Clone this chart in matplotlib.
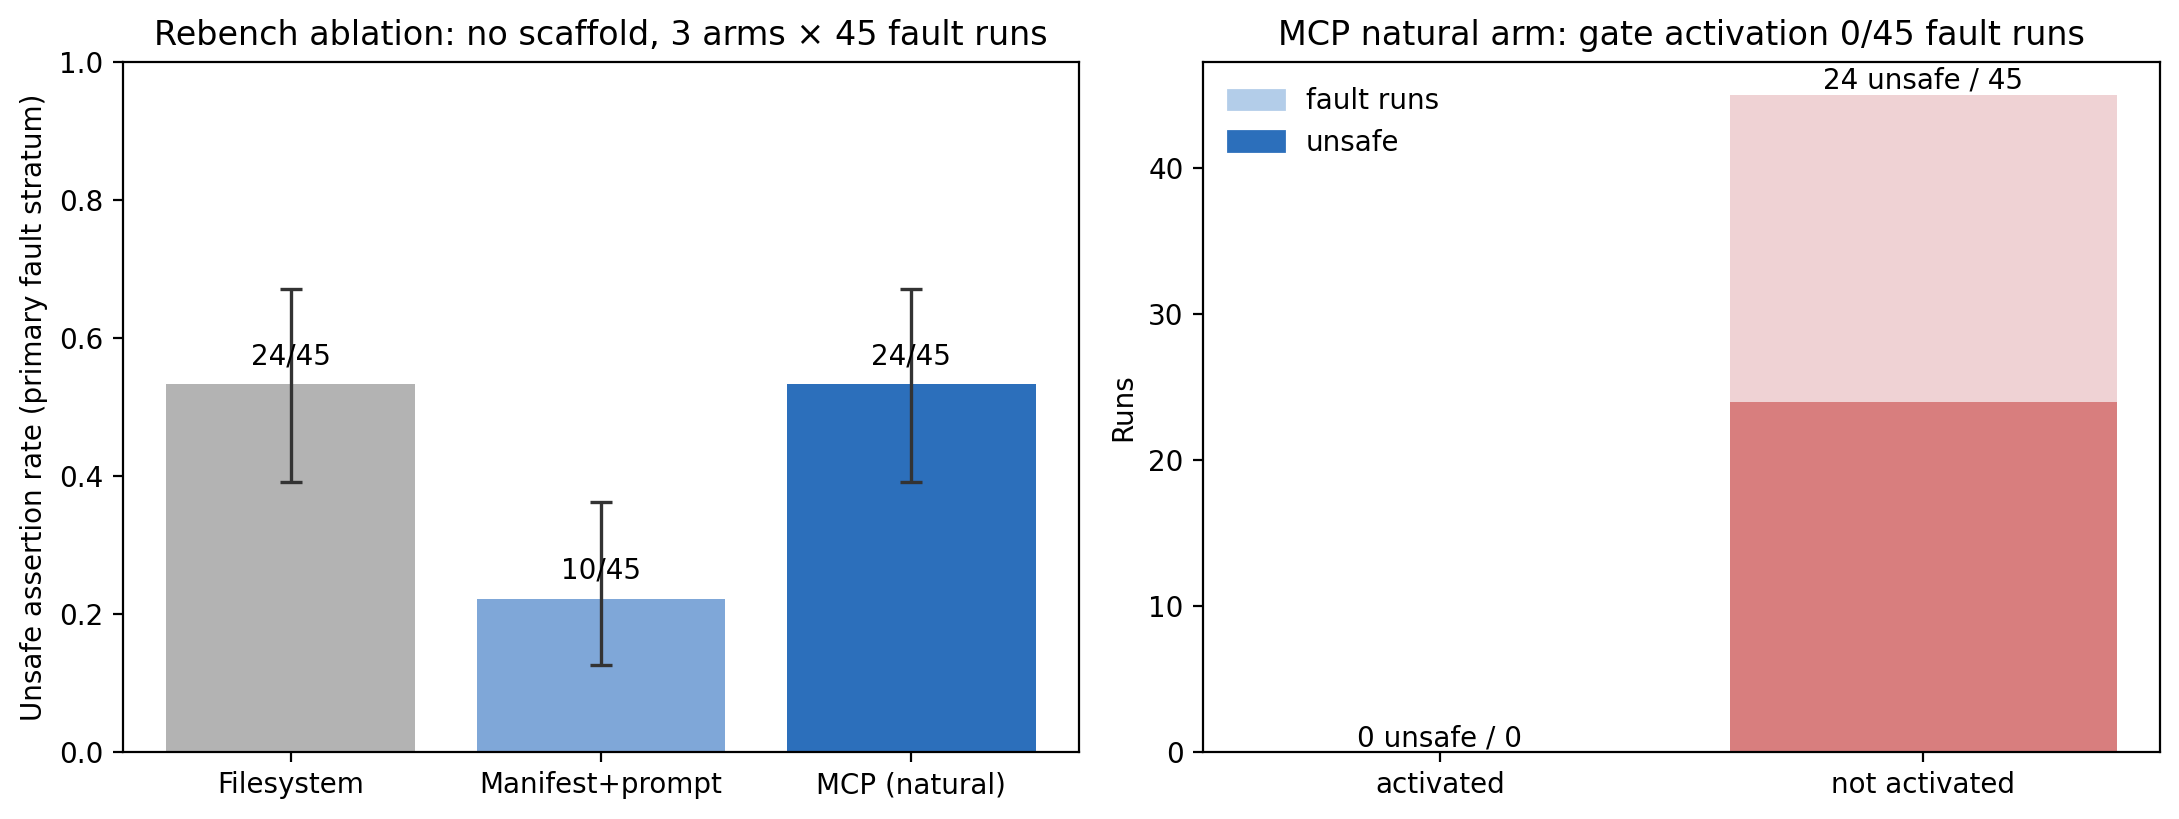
import matplotlib
matplotlib.use("Agg")
import matplotlib.pyplot as plt
from matplotlib.patches import Patch

# left panel: unsafe assertion rate per arm
arms = ["Filesystem", "Manifest+prompt", "MCP (natural)"]
unsafe_counts = [24, 10, 24]
fault_runs = [45, 45, 45]
ci_low = [0.391, 0.126, 0.391]
ci_high = [0.671, 0.363, 0.671]
arm_colors = ["#b3b3b3", "#7fa7d8", "#2c6fbb"]

# right panel: gate activation split for MCP natural arm
gate_groups = ["activated", "not activated"]
gate_fault_runs = [0, 45]
gate_unsafe = [0, 24]

rates = [u / n for u, n in zip(unsafe_counts, fault_runs)]
err_lo = [r - lo for r, lo in zip(rates, ci_low)]
err_hi = [hi - r for r, hi in zip(rates, ci_high)]

fig = plt.figure(figsize=(2179 / 200, 819 / 200), dpi=200)
ax1 = fig.add_axes([0.0564, 0.0818, 0.4388, 0.8425])
ax2 = fig.add_axes([0.5521, 0.0818, 0.4392, 0.8425])

x = list(range(len(arms)))
ax1.bar(x, rates, width=0.8, color=arm_colors)
ax1.errorbar(x, rates, yerr=[err_lo, err_hi], fmt="none", ecolor="#333333",
             capsize=4, elinewidth=1.2, capthick=1.2)
for xi, r, u, n in zip(x, rates, unsafe_counts, fault_runs):
    ax1.text(xi, r + 0.02, f"{u}/{n}", ha="center", va="bottom", fontsize=10)
ax1.set_xticks(x)
ax1.set_xticklabels(arms)
ax1.set_ylim(0, 1.0)
ax1.set_ylabel("Unsafe assertion rate (primary fault stratum)")
ax1.set_title("Rebench ablation: no scaffold, 3 arms \u00d7 45 fault runs", fontsize=12)

gx = list(range(len(gate_groups)))
ax2.bar(gx, gate_fault_runs, width=0.8, color="#efd2d4")
ax2.bar(gx, gate_unsafe, width=0.8, color="#d87e7e")
for xi, u, n in zip(gx, gate_unsafe, gate_fault_runs):
    ax2.text(xi, n, f"{u} unsafe / {n}", ha="center", va="bottom", fontsize=10)
ax2.set_xticks(gx)
ax2.set_xticklabels(gate_groups)
ax2.set_ylabel("Runs")
ax2.set_title("MCP natural arm: gate activation 0/45 fault runs", fontsize=12)
handles = [Patch(color="#b3cde9", label="fault runs"),
           Patch(color="#2c6fbb", label="unsafe")]
ax2.legend(handles=handles, loc="upper left", frameon=False)

fig.savefig("out.png", dpi=200)
